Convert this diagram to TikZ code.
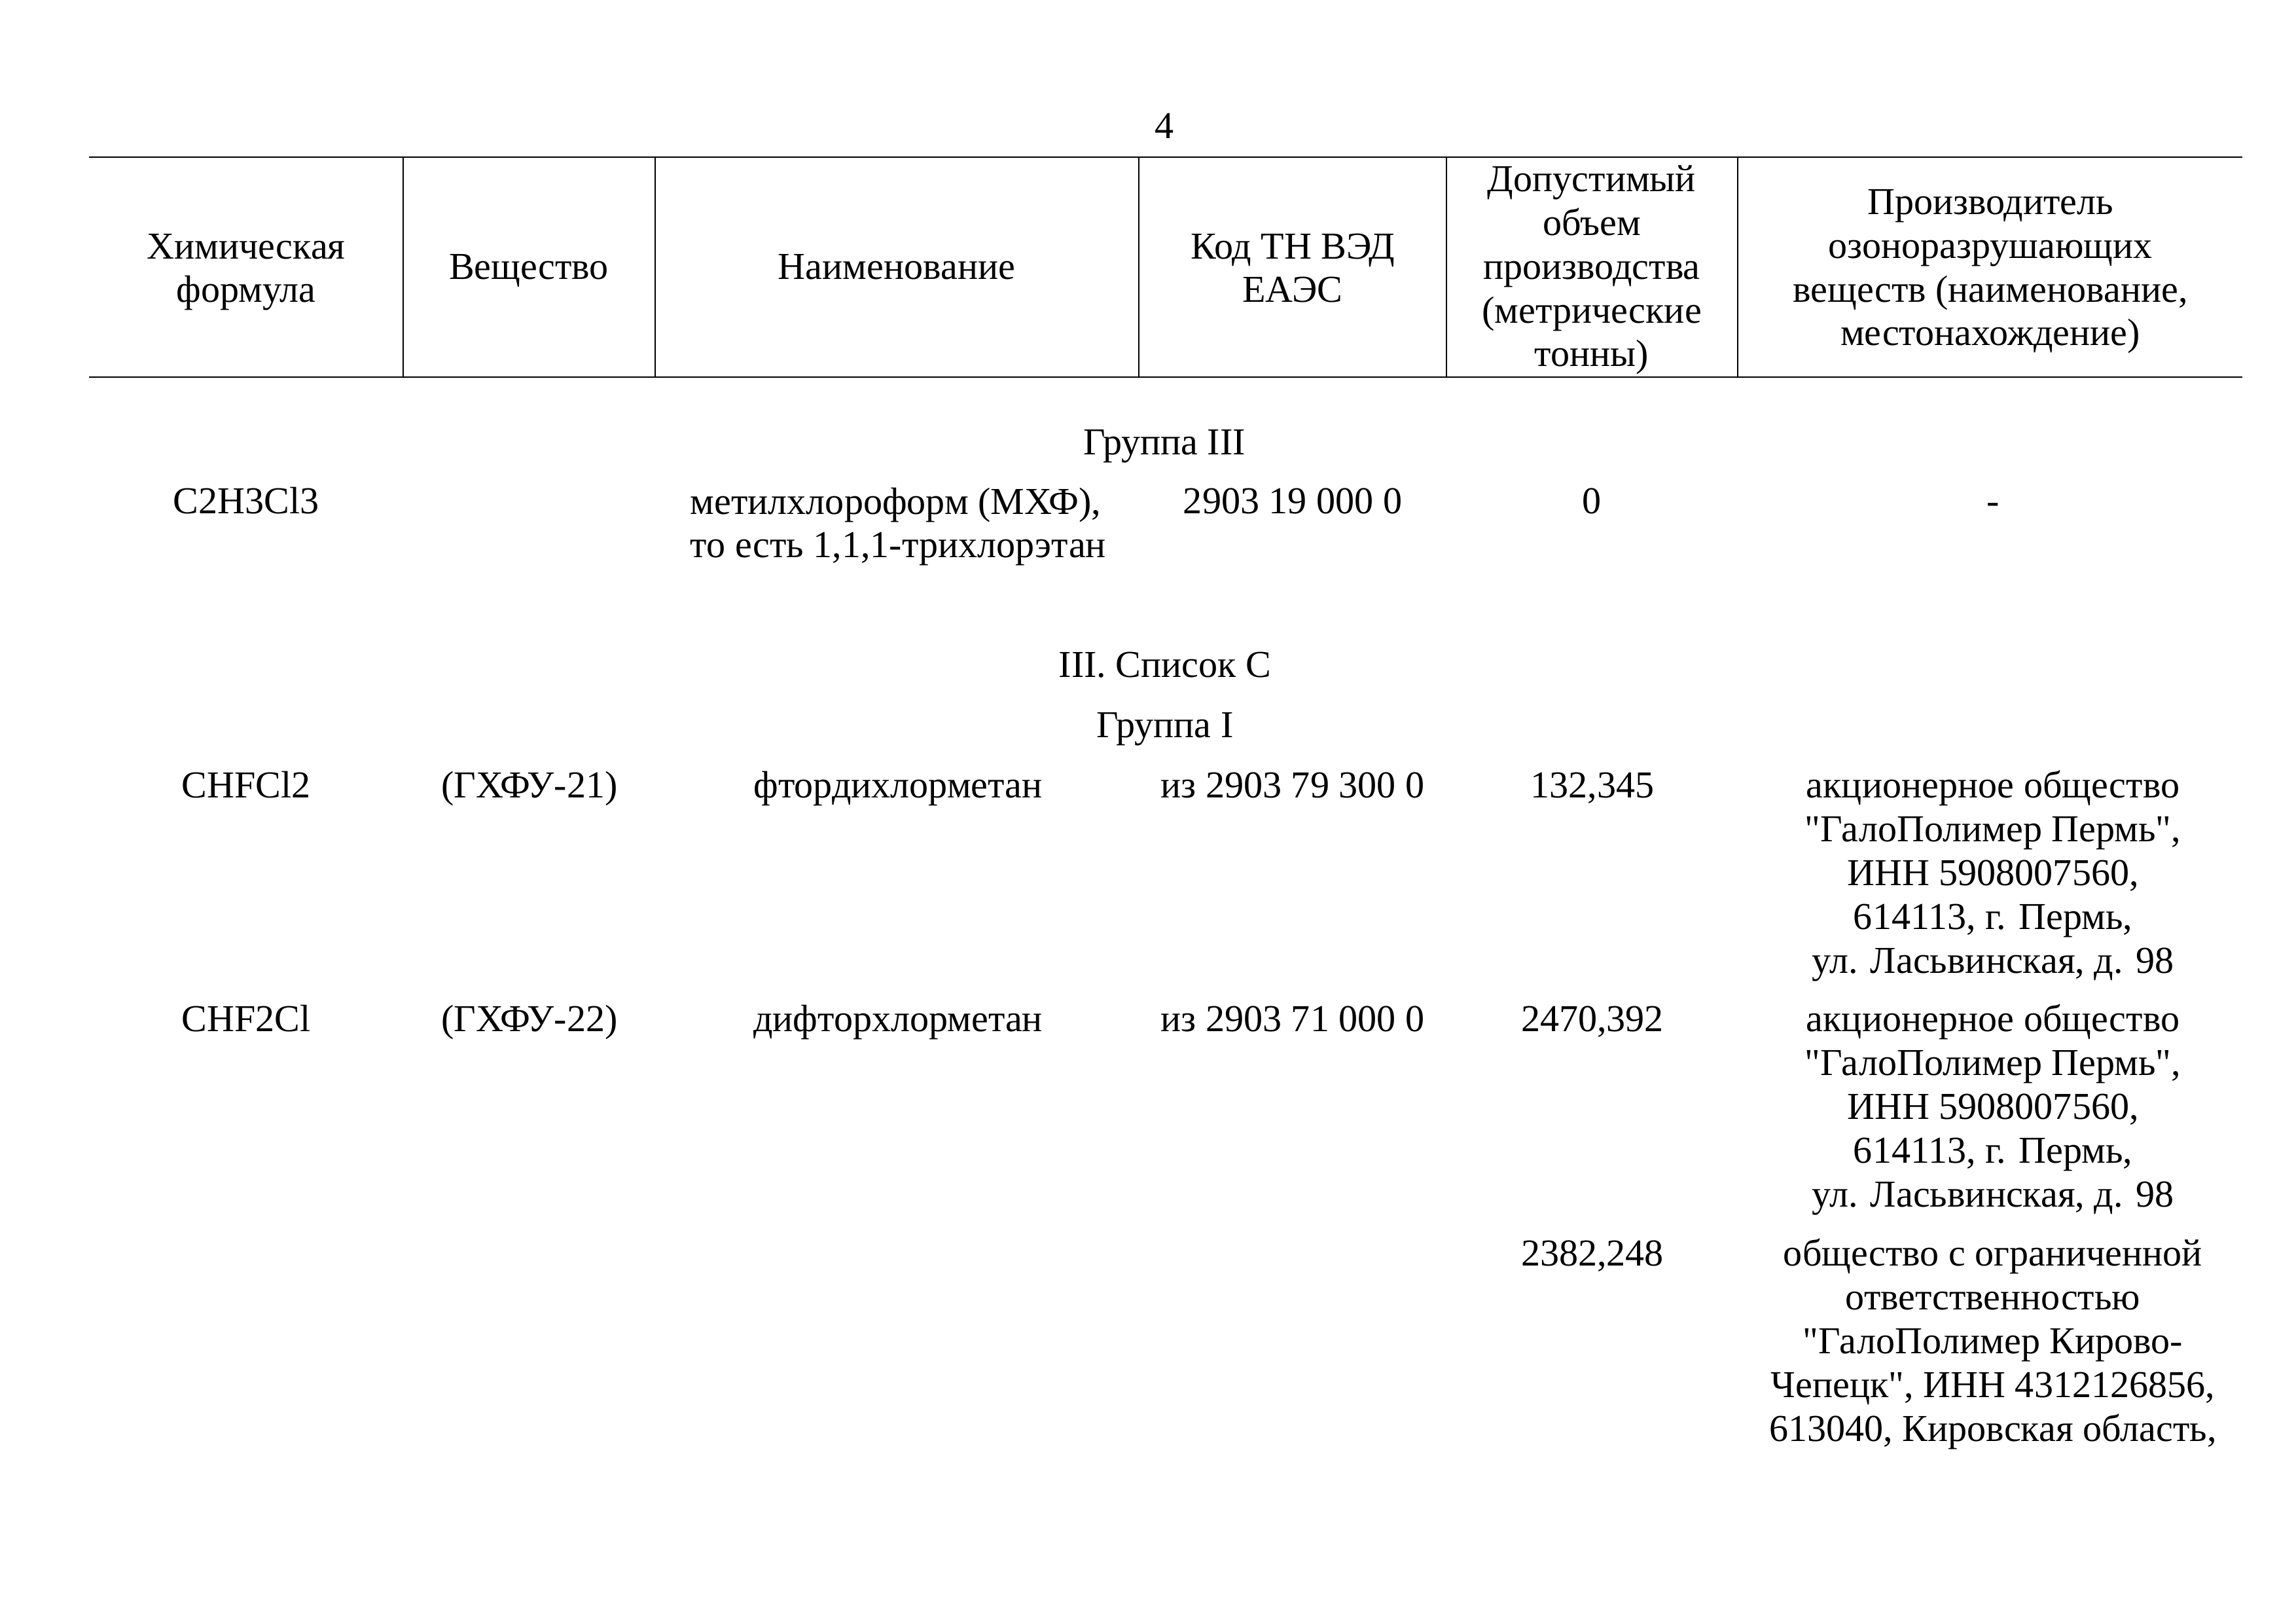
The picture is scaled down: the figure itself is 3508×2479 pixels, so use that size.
\documentclass[tikz,border=0pt]{standalone}
\usepackage{fontspec}
\setmainfont{Liberation Serif}[Ligatures=TeXOff]
\usepackage{tikz}
\usetikzlibrary{positioning}
\newcommand{\dq}{\char34\relax}
\tikzstyle{cell} = [inner sep=0pt, align=center, anchor=base]
\tikzstyle{rule} = [draw, line width=0.7pt]
\tikzstyle{sep} = [draw, line width=0.4pt]

\begin{document}
\begin{tikzpicture}[x=0.08467mm, y=-0.08467mm, font=\fontsize{14pt}{16.1pt}\selectfont]
\useasboundingbox (0,0) rectangle (3508,2479);

\node (page) [cell] at (1779,212) {4};

\coordinate (tl) at (136,240);
\coordinate (tr) at (3426,240);
\coordinate (bl) at (136,576);
\coordinate (br) at (3426,576);
\path [rule] (tl) -- (tr);
\path [rule] (bl) -- (br);
\foreach \x in {616,1001,1740,2210,2655} {
  \path [sep] (\x,240) -- (\x,576);
}

\node (hdr0) [cell] at (376,462) {Химическая\\формула};
\node (hdr1) [cell] at (808,427) {Вещество};
\node (hdr2) [cell] at (1370,427) {Наименование};
\node (hdr3) [cell] at (1975,462) {Код ТН ВЭД\\ЕАЭС};
\node (hdr4) [cell] at (2432,560) {Допустимый\\объем\\производства\\(метрические\\тонны)};
\node (hdr5) [cell] at (3041,528) {Производитель\\озоноразрушающих\\веществ (наименование,\\местонахождение)};

\node (grp3) [cell] at (1779,695) {Группа III};

\node (node10) [cell] at (376,785) {C2H3Cl3};
\node (node12) [cell, align=left, anchor=base west] at (1054,852) {метилхлороформ (МХФ),\\то есть 1,1,1-трихлорэтан};
\node (node13) [cell] at (1975,785) {2903 19 000 0};
\node (node14) [cell] at (2432,785) {0};
\node (node15) [cell] at (3045,785) {-};

\node (listc) [cell] at (1780,1035) {III. Список С};
\node (grp1) [cell] at (1780,1127) {Группа I};

\node (node20) [cell] at (376,1218) {CHFCl2};
\node (node21) [cell] at (809,1218) {(ГХФУ-21)};
\node (node22) [cell] at (1372,1218) {фтордихлорметан};
\node (node23) [cell] at (1975,1218) {из 2903 79 300 0};
\node (node24) [cell] at (2433,1218) {132,345};
\node (node25) [cell] at (3045,1486) {акционерное общество\\\dq ГалоПолимер Пермь\dq,\\ИНН 5908007560,\\614113, г. Пермь,\\ул. Ласьвинская, д. 98};

\node (node30) [cell] at (376,1575) {CHF2Cl};
\node (node31) [cell] at (809,1575) {(ГХФУ-22)};
\node (node32) [cell] at (1372,1575) {дифторхлорметан};
\node (node33) [cell] at (1975,1575) {из 2903 71 000 0};
\node (node34) [cell] at (2433,1575) {2470,392};
\node (node35) [cell] at (3045,1843) {акционерное общество\\\dq ГалоПолимер Пермь\dq,\\ИНН 5908007560,\\614113, г. Пермь,\\ул. Ласьвинская, д. 98};

\node (node44) [cell] at (2433,1933) {2382,248};
\node (node45) [cell] at (3045,2201) {общество с ограниченной\\ответственностью\\\dq ГалоПолимер Кирово-\\Чепецк\dq, ИНН 4312126856,\\613040, Кировская область,};

\end{tikzpicture}
\end{document}
